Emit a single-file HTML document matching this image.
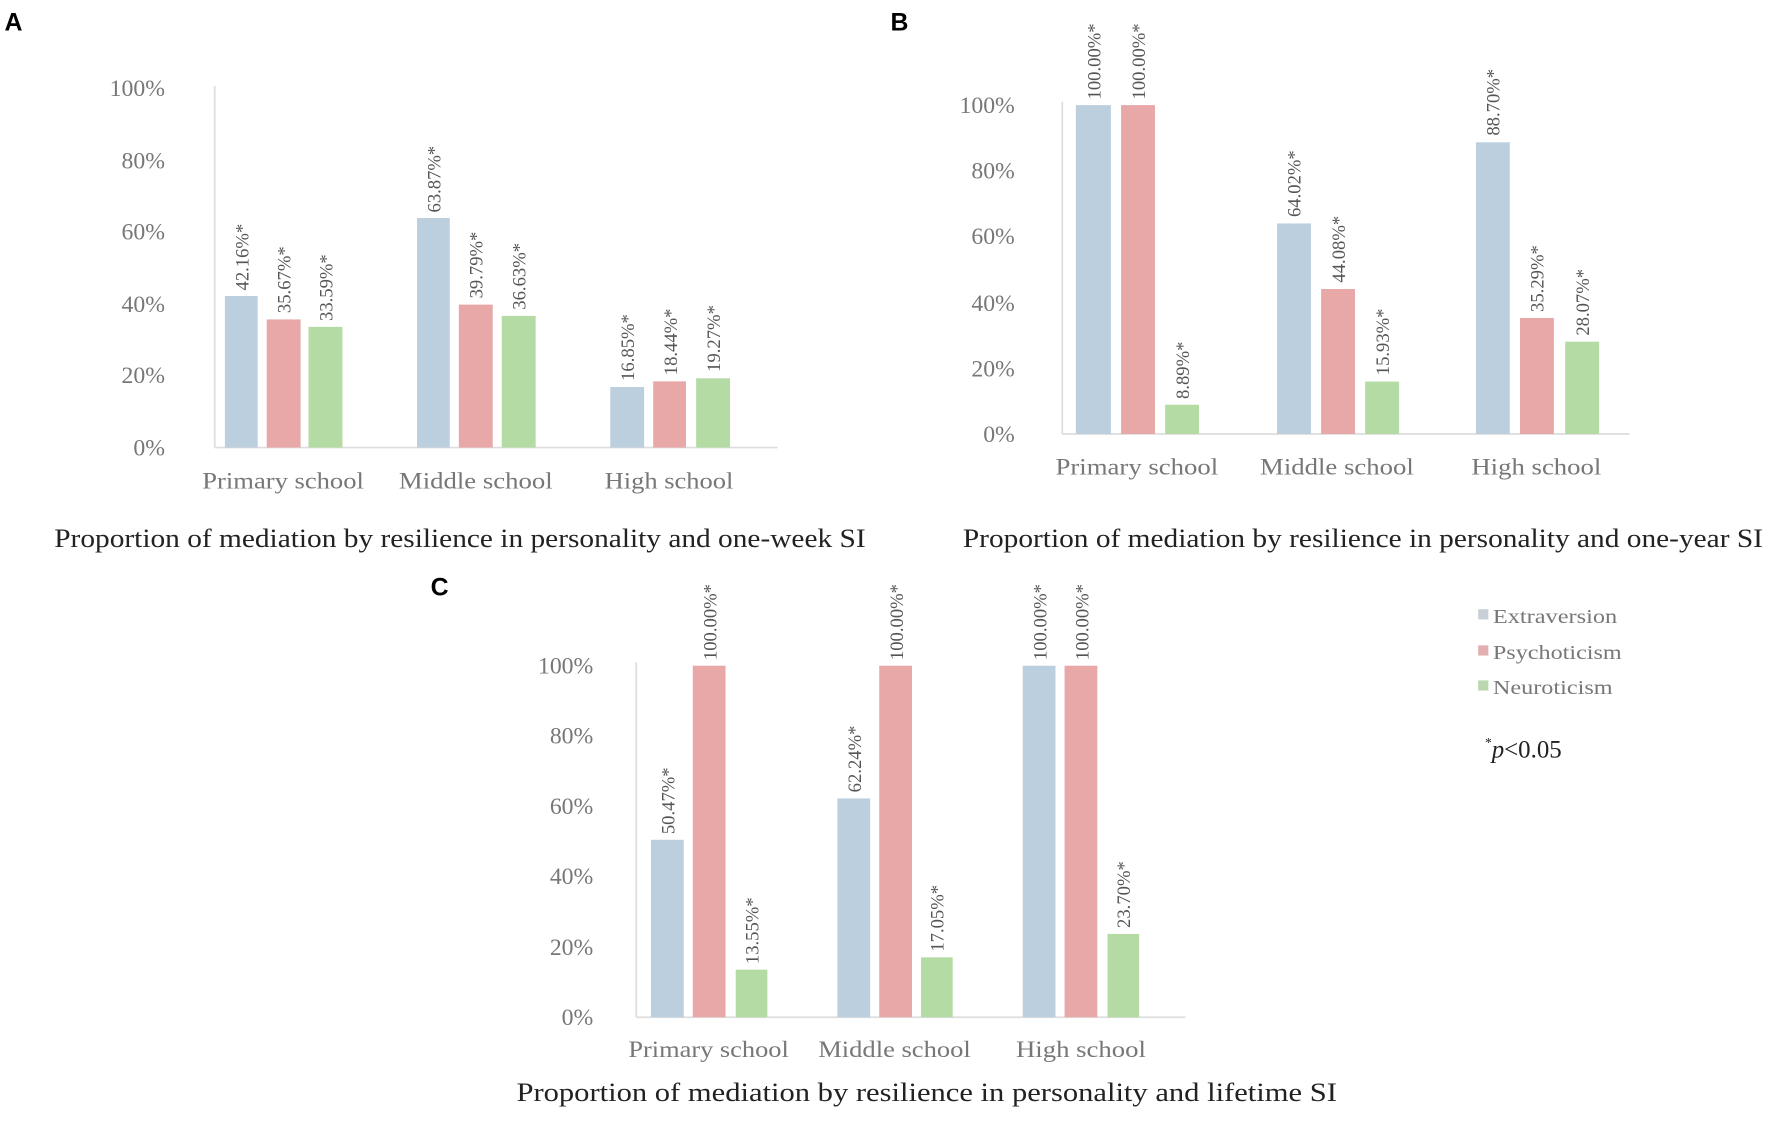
<!DOCTYPE html>
<html><head><meta charset="utf-8"><style>
html,body{margin:0;padding:0;background:#fff;}
svg{display:block;}
.t{font-family:"Liberation Serif",serif;}
.v{font-family:"Liberation Serif",serif;font-size:16.5px;fill:#555;}
.ax{font-family:"Liberation Serif",serif;font-size:21px;fill:#777;}
.ttl{font-family:"Liberation Serif",serif;font-size:23px;fill:#222;}
.L{font-family:"Liberation Sans",sans-serif;font-weight:bold;font-size:22px;fill:#000;}
</style></head><body>
<svg width="1772" height="1128" viewBox="0 0 1568 998" preserveAspectRatio="none" xmlns="http://www.w3.org/2000/svg">
<g id="A">
<text class="L" x="4" y="27">A</text>
<line x1="190" y1="76" x2="190" y2="396" stroke="#ddd" stroke-width="1.5"/>
<line x1="190" y1="396" x2="688" y2="396" stroke="#ddd" stroke-width="1.5"/>
<g class="ax" text-anchor="end">
<text x="146" y="85">100%</text><text x="146" y="149">80%</text><text x="146" y="212">60%</text>
<text x="146" y="276">40%</text><text x="146" y="339">20%</text><text x="146" y="403">0%</text>
</g>
<rect x="199" y="261.9" width="29" height="134.1" fill="#bccfdf"/>
<rect x="236" y="282.6" width="30" height="113.4" fill="#e9a8a8"/>
<rect x="273" y="289.2" width="30" height="106.8" fill="#b5dba5"/>
<rect x="369" y="192.9" width="29" height="203.1" fill="#bccfdf"/>
<rect x="406" y="269.5" width="30" height="126.5" fill="#e9a8a8"/>
<rect x="444" y="279.5" width="30" height="116.5" fill="#b5dba5"/>
<rect x="540" y="342.4" width="30" height="53.6" fill="#bccfdf"/>
<rect x="578" y="337.4" width="29" height="58.6" fill="#e9a8a8"/>
<rect x="616" y="334.7" width="30" height="61.3" fill="#b5dba5"/>
<g class="v">
<text transform="translate(220,257) rotate(-90)">42.16%*</text>
<text transform="translate(257,277) rotate(-90)">35.67%*</text>
<text transform="translate(294,284) rotate(-90)">33.59%*</text>
<text transform="translate(390,188) rotate(-90)">63.87%*</text>
<text transform="translate(427,264) rotate(-90)">39.79%*</text>
<text transform="translate(465,274) rotate(-90)">36.63%*</text>
<text transform="translate(561,337) rotate(-90)">16.85%*</text>
<text transform="translate(599,332) rotate(-90)">18.44%*</text>
<text transform="translate(637,329) rotate(-90)">19.27%*</text>
</g>
<g class="ax">
<text x="179" y="432" textLength="143" lengthAdjust="spacingAndGlyphs">Primary school</text>
<text x="353" y="432" textLength="136" lengthAdjust="spacingAndGlyphs">Middle school</text>
<text x="535" y="432" textLength="114" lengthAdjust="spacingAndGlyphs">High school</text>
</g>
<text class="ttl" x="48" y="484" textLength="718" lengthAdjust="spacingAndGlyphs">Proportion of mediation by resilience in personality and one-week SI</text>
</g>
<g id="B">
<text class="L" x="788" y="27">B</text>
<line x1="940" y1="90" x2="940" y2="384" stroke="#ddd" stroke-width="1.5"/>
<line x1="940" y1="384" x2="1442" y2="384" stroke="#ddd" stroke-width="1.5"/>
<g class="ax" text-anchor="end">
<text x="898" y="100">100%</text><text x="898" y="158">80%</text><text x="898" y="216">60%</text>
<text x="898" y="275">40%</text><text x="898" y="333">20%</text><text x="898" y="391">0%</text>
</g>
<rect x="952" y="93" width="31" height="291" fill="#bccfdf"/>
<rect x="992" y="93" width="30" height="291" fill="#e9a8a8"/>
<rect x="1031" y="358.1" width="30" height="25.9" fill="#b5dba5"/>
<rect x="1130" y="197.7" width="30" height="186.3" fill="#bccfdf"/>
<rect x="1169" y="255.7" width="30" height="128.3" fill="#e9a8a8"/>
<rect x="1208" y="337.6" width="30" height="46.4" fill="#b5dba5"/>
<rect x="1306" y="125.9" width="30" height="258.1" fill="#bccfdf"/>
<rect x="1345" y="281.3" width="30" height="102.7" fill="#e9a8a8"/>
<rect x="1385" y="302.3" width="30" height="81.7" fill="#b5dba5"/>
<g class="v">
<text transform="translate(974,88) rotate(-90)">100.00%*</text>
<text transform="translate(1013,88) rotate(-90)">100.00%*</text>
<text transform="translate(1052,353) rotate(-90)">8.89%*</text>
<text transform="translate(1151,192) rotate(-90)">64.02%*</text>
<text transform="translate(1190,250) rotate(-90)">44.08%*</text>
<text transform="translate(1229,332) rotate(-90)">15.93%*</text>
<text transform="translate(1327,120) rotate(-90)">88.70%*</text>
<text transform="translate(1366,276) rotate(-90)">35.29%*</text>
<text transform="translate(1406,297) rotate(-90)">28.07%*</text>
</g>
<g class="ax">
<text x="934" y="420" textLength="144" lengthAdjust="spacingAndGlyphs">Primary school</text>
<text x="1115" y="420" textLength="136" lengthAdjust="spacingAndGlyphs">Middle school</text>
<text x="1302" y="420" textLength="115" lengthAdjust="spacingAndGlyphs">High school</text>
</g>
<text class="ttl" x="852" y="484" textLength="708" lengthAdjust="spacingAndGlyphs">Proportion of mediation by resilience in personality and one-year SI</text>
</g>
<g id="C">
<text class="L" x="381" y="527">C</text>
<line x1="563" y1="586" x2="563" y2="900" stroke="#ddd" stroke-width="1.5"/>
<line x1="563" y1="900" x2="1049" y2="900" stroke="#ddd" stroke-width="1.5"/>
<g class="ax" text-anchor="end">
<text x="525" y="596">100%</text><text x="525" y="658">80%</text><text x="525" y="720">60%</text>
<text x="525" y="782">40%</text><text x="525" y="845">20%</text><text x="525" y="907">0%</text>
</g>
<rect x="576" y="743" width="29" height="157" fill="#bccfdf"/>
<rect x="613" y="589" width="29" height="311" fill="#e9a8a8"/>
<rect x="651" y="857.9" width="28" height="42.1" fill="#b5dba5"/>
<rect x="741" y="706.4" width="29" height="193.6" fill="#bccfdf"/>
<rect x="778" y="589" width="29" height="311" fill="#e9a8a8"/>
<rect x="815" y="847" width="28" height="53" fill="#b5dba5"/>
<rect x="905" y="589" width="29" height="311" fill="#bccfdf"/>
<rect x="942" y="589" width="29" height="311" fill="#e9a8a8"/>
<rect x="980" y="826.3" width="28" height="73.7" fill="#b5dba5"/>
<g class="v">
<text transform="translate(597,738) rotate(-90)">50.47%*</text>
<text transform="translate(634,584) rotate(-90)">100.00%*</text>
<text transform="translate(671,853) rotate(-90)">13.55%*</text>
<text transform="translate(762,701) rotate(-90)">62.24%*</text>
<text transform="translate(799,584) rotate(-90)">100.00%*</text>
<text transform="translate(835,842) rotate(-90)">17.05%*</text>
<text transform="translate(926,584) rotate(-90)">100.00%*</text>
<text transform="translate(963,584) rotate(-90)">100.00%*</text>
<text transform="translate(1000,821) rotate(-90)">23.70%*</text>
</g>
<g class="ax">
<text x="556" y="935" textLength="142" lengthAdjust="spacingAndGlyphs">Primary school</text>
<text x="724" y="935" textLength="135" lengthAdjust="spacingAndGlyphs">Middle school</text>
<text x="899" y="935" textLength="115" lengthAdjust="spacingAndGlyphs">High school</text>
</g>
<text class="ttl" x="457" y="974" textLength="726" lengthAdjust="spacingAndGlyphs">Proportion of mediation by resilience in personality and lifetime SI</text>
</g>
<g id="legend">
<rect x="1308" y="539" width="9" height="9" fill="#c8cfd6"/>
<rect x="1308" y="571" width="9" height="9" fill="#e2aeb2"/>
<rect x="1308" y="602" width="9" height="9" fill="#b9d8b0"/>
<g class="t" font-size="18" fill="#777">
<text x="1321" y="551" textLength="110" lengthAdjust="spacingAndGlyphs">Extraversion</text>
<text x="1321" y="583" textLength="114" lengthAdjust="spacingAndGlyphs">Psychoticism</text>
<text x="1321" y="614" textLength="106" lengthAdjust="spacingAndGlyphs">Neuroticism</text>
</g>
<text class="t" x="1314" y="670" font-size="22" fill="#222"><tspan font-size="12" dy="-9">*</tspan><tspan dy="9" font-style="italic">p</tspan>&lt;0.05</text>
</g>
</svg>
</body></html>
